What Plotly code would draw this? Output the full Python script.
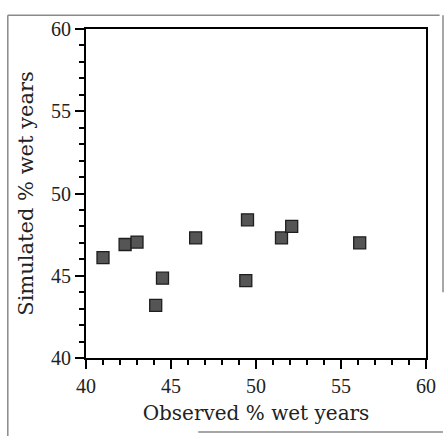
import plotly.graph_objects as go

# Observed vs simulated percentage of wet years
observed = [41.0, 42.3, 43.0, 44.1, 44.5, 46.45, 49.4, 49.5, 51.5, 52.1, 56.1]
simulated = [46.1, 46.9, 47.05, 43.2, 44.85, 47.3, 44.7, 48.4, 47.3, 48.0, 47.0]

x_ticks = [40, 45, 50, 55, 60]
y_ticks = [40, 45, 50, 55, 60]

TICK_FONT = "Liberation Serif"
TITLE_FONT = "DejaVu Serif"

fig = go.Figure()
fig.add_trace(go.Scatter(
    x=observed, y=simulated, mode="markers",
    marker=dict(symbol="square", size=12, color="#555555",
                line=dict(color="#1e1e1e", width=1.3)),
    showlegend=False, hoverinfo="x+y",
))

axis_common = dict(
    showline=True, linecolor="black", linewidth=2, mirror=True,
    ticks="outside", ticklen=9, tickwidth=1.5, tickcolor="black",
    showgrid=False, zeroline=False,
    tickfont=dict(family=TICK_FONT, size=20, color="#222"),
    minor=dict(tickmode="linear", tick0=40, dtick=1, ticks="outside",
               ticklen=5, tickwidth=1.5, tickcolor="black", showgrid=False),
)

fig.update_xaxes(range=[40, 60], tickmode="array", tickvals=x_ticks,
                 **axis_common,
                 title=dict(text="Observed % wet years",
                            font=dict(family=TITLE_FONT, size=20, color="#222"),
                            standoff=10))
fig.update_yaxes(range=[40, 60], tickmode="array", tickvals=y_ticks,
                 **axis_common,
                 title=dict(text="Simulated % wet years",
                            font=dict(family=TITLE_FONT, size=21, color="#222"),
                            standoff=12))

# outer page frame
frame = dict(type="line", xref="paper", yref="paper",
             line=dict(color="#8a8a8a", width=1.5))
fig.add_shape(**frame, x0=-0.23, x1=-0.23, y0=-0.24, y1=1.042)
fig.add_shape(**frame, x0=-0.23, x1=1.04, y0=1.042, y1=1.042)
fig.add_shape(**frame, x0=1.05, x1=1.05, y0=0.2, y1=1.042)
fig.add_shape(**frame, x0=0.33, x1=1.05, y0=-0.225, y1=-0.225)

fig.update_layout(
    width=448, height=436,
    margin=dict(l=86, r=18, t=29, b=78),
    paper_bgcolor="white", plot_bgcolor="white",
)

fig.write_html("out.html")
